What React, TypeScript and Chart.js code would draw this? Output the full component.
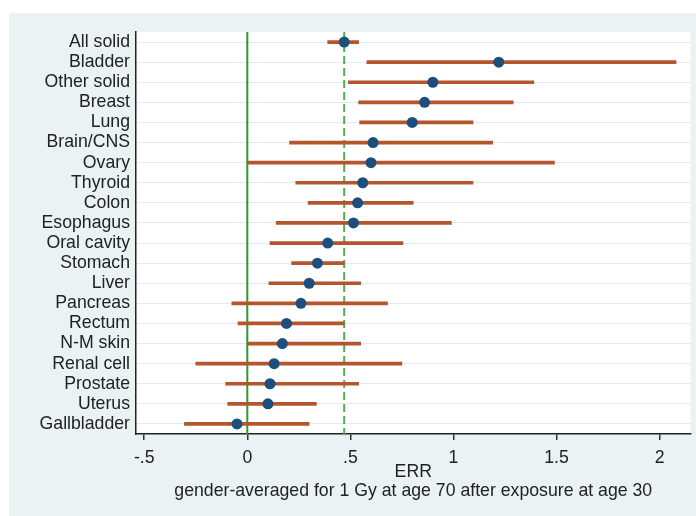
import React, { useEffect, useRef } from "react";
import { Chart, registerables } from "chart.js";

Chart.register(...registerables);

const categories = [
  "All solid", "Bladder", "Other solid", "Breast", "Lung", "Brain/CNS", "Ovary",
  "Thyroid", "Colon", "Esophagus", "Oral cavity", "Stomach", "Liver", "Pancreas",
  "Rectum", "N-M skin", "Renal cell", "Prostate", "Uterus", "Gallbladder",
];
const estimates = [
  0.47, 1.22, 0.90, 0.86, 0.80, 0.61, 0.60, 0.56, 0.535, 0.515, 0.39, 0.34,
  0.30, 0.26, 0.19, 0.17, 0.13, 0.11, 0.10, -0.05,
];
const lowerCI = [
  0.39, 0.58, 0.49, 0.54, 0.545, 0.205, 0.0, 0.235, 0.295, 0.14, 0.11, 0.215,
  0.105, -0.075, -0.045, 0.0, -0.25, -0.105, -0.095, -0.305,
];
const upperCI = [
  0.54, 2.08, 1.39, 1.29, 1.095, 1.19, 1.49, 1.095, 0.805, 0.99, 0.755, 0.47,
  0.55, 0.68, 0.47, 0.55, 0.75, 0.54, 0.335, 0.30,
];
const xTickValues = [-0.5, 0, 0.5, 1, 1.5, 2];
const xTickLabels = ["-.5", "0", ".5", "1", "1.5", "2"];
const refLineValues = [0, 0.47];
const refLineDashed = [false, true];
const xTitleLines = ["ERR", "gender-averaged for 1 Gy at age 70 after exposure at age 30"];

const FONT = '"Liberation Sans", Arial, Helvetica, sans-serif';
const FS = 17.7;

export default function App() {
  const canvasRef = useRef<HTMLCanvasElement | null>(null);

  useEffect(() => {
    if (!canvasRef.current) return;

    const plotBg = {
      id: "plotBg",
      beforeDraw(chart: any) {
        const { ctx, chartArea } = chart;
        ctx.save();
        ctx.fillStyle = "#ffffff";
        ctx.fillRect(chartArea.left, chartArea.top, chartArea.right - chartArea.left, chartArea.bottom - chartArea.top);
        ctx.restore();
      },
    };

    const refLines = {
      id: "refLines",
      beforeDatasetsDraw(chart: any) {
        const { ctx, chartArea, scales } = chart;
        ctx.save();
        refLineValues.forEach((v, i) => {
          const x = scales.x.getPixelForValue(v);
          ctx.beginPath();
          ctx.lineWidth = 2;
          if (refLineDashed[i]) {
            ctx.strokeStyle = "#4fb04f";
            ctx.setLineDash([8, 4]);
          } else {
            ctx.strokeStyle = "#2a9a2a";
            ctx.setLineDash([]);
          }
          ctx.moveTo(x, chartArea.top);
          ctx.lineTo(x, chartArea.bottom);
          ctx.stroke();
        });
        ctx.restore();
      },
    };

    const chart = new Chart(canvasRef.current, {
      type: "bar",
      data: {
        labels: categories,
        datasets: [
          {
            type: "bar",
            data: categories.map((_, i) => [lowerCI[i], upperCI[i]]) as any,
            backgroundColor: "#b4552d",
            borderWidth: 0,
            barThickness: 3,
            order: 2,
          },
          {
            type: "scatter",
            data: categories.map((c, i) => ({ x: estimates[i], y: c })) as any,
            backgroundColor: "#1d4f7e",
            borderColor: "#1d4f7e",
            pointRadius: 5.5,
            pointBorderWidth: 0,
            order: 1,
          } as any,
        ],
      },
      options: {
        indexAxis: "y",
        animation: false,
        responsive: true,
        maintainAspectRatio: false,
        layout: { padding: { top: 19, right: 5, left: 0, bottom: 0 } },
        plugins: { legend: { display: false }, tooltip: { enabled: false } },
        scales: {
          y: {
            type: "category",
            offset: true,
            afterFit(scale: any) {
              scale.width = 127;
            },
            grid: { offset: false, drawTicks: false, color: "#e3ebee", lineWidth: 1 },
            border: { display: true, color: "#222", width: 1.5 },
            ticks: { color: "#222", padding: 6, autoSkip: false, font: { family: FONT, size: FS } },
          },
          x: {
            type: "linear",
            min: -0.54,
            max: 2.15,
            afterBuildTicks(scale: any) {
              scale.ticks = xTickValues.map((v) => ({ value: v }));
            },
            afterFit(scale: any) {
              scale.height = 82;
            },
            grid: { drawOnChartArea: false, drawTicks: true, tickLength: 6, color: "#333", lineWidth: 1.5 },
            border: { display: true, color: "#222", width: 1.5 },
            ticks: {
              color: "#222",
              padding: 7,
              maxRotation: 0,
              autoSkip: false,
              font: { family: FONT, size: FS },
              callback: (v: any) => {
                const idx = xTickValues.indexOf(Number(v));
                return idx >= 0 ? xTickLabels[idx] : "";
              },
            },
            title: {
              display: true,
              text: xTitleLines,
              color: "#222",
              font: { family: FONT, size: FS, lineHeight: 1.04 },
              padding: { top: 0, bottom: 16 },
            },
          },
        },
      },
      plugins: [plotBg, refLines],
    });

    return () => chart.destroy();
  }, []);

  return (
    <div style={{ position: "fixed", left: 0, top: 0, width: 696, height: 516, background: "#ffffff" }}>
      <div style={{ position: "absolute", left: 9, top: 13, width: 687, height: 503, background: "#eaf2f3" }}>
        <canvas ref={canvasRef} />
      </div>
    </div>
  );
}
